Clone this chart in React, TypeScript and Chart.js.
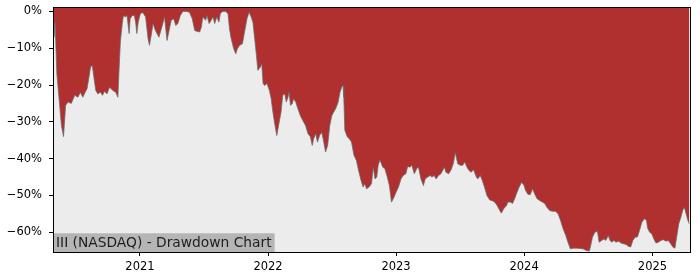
import { useEffect, useRef } from "react";
import { Chart, registerables } from "chart.js";

Chart.register(...registerables);

const dates: string[] = [
  "2020-04-28","2020-05-01","2020-05-04","2020-05-09","2020-05-17","2020-05-22","2020-05-28","2020-06-03","2020-06-10","2020-06-19",
  "2020-06-29","2020-07-08","2020-07-15","2020-07-22","2020-07-27","2020-08-03","2020-08-08","2020-08-13","2020-08-18","2020-08-23",
  "2020-08-28","2020-09-03","2020-09-10","2020-09-16","2020-09-22","2020-09-29","2020-10-06","2020-10-16","2020-10-24","2020-10-30",
  "2020-11-02","2020-11-06","2020-11-12","2020-11-15","2020-11-21","2020-11-25","2020-12-01","2020-12-04","2020-12-10","2020-12-16",
  "2020-12-20","2020-12-23","2020-12-27",
  "2021-01-02","2021-01-09","2021-01-17","2021-01-24","2021-01-28","2021-02-02","2021-02-07","2021-02-14","2021-02-24","2021-03-03",
  "2021-03-12","2021-03-19","2021-03-24","2021-03-31","2021-04-07","2021-04-13","2021-04-19","2021-04-26","2021-05-03","2021-05-13",
  "2021-05-22","2021-05-30","2021-06-06","2021-06-12","2021-06-20","2021-06-25","2021-06-29","2021-07-07","2021-07-11","2021-07-17",
  "2021-07-23","2021-07-28","2021-08-02","2021-08-08","2021-08-14","2021-08-18","2021-08-24","2021-09-02","2021-09-09","2021-09-13",
  "2021-09-18","2021-09-25","2021-10-01","2021-10-06","2021-10-12","2021-10-20","2021-10-26","2021-11-02","2021-11-08","2021-11-14",
  "2021-11-19","2021-11-24","2021-11-29","2021-12-03","2021-12-10","2021-12-14","2021-12-18","2021-12-22","2021-12-29",
  "2022-01-05","2022-01-10","2022-01-15","2022-01-20","2022-01-26","2022-02-01","2022-02-07","2022-02-12","2022-02-18","2022-02-22",
  "2022-02-27","2022-03-02","2022-03-06","2022-03-11","2022-03-15","2022-03-21","2022-03-27","2022-04-03","2022-04-10","2022-04-18",
  "2022-04-25","2022-05-02","2022-05-07","2022-05-11","2022-05-17","2022-05-22","2022-05-28","2022-06-03","2022-06-09","2022-06-14",
  "2022-06-20","2022-06-26","2022-07-02","2022-07-07","2022-07-13","2022-07-20","2022-07-25","2022-07-30","2022-08-03","2022-08-05",
  "2022-08-08","2022-08-15","2022-08-20","2022-08-27","2022-09-03","2022-09-10","2022-09-15","2022-09-22","2022-09-29","2022-10-04",
  "2022-10-09","2022-10-16","2022-10-23","2022-10-28","2022-11-02","2022-11-07","2022-11-11","2022-11-16","2022-11-24","2022-11-30",
  "2022-12-07","2022-12-13","2022-12-19","2022-12-26",
  "2023-01-01","2023-01-08","2023-01-15","2023-01-21","2023-01-29","2023-02-03","2023-02-10","2023-02-15","2023-02-22","2023-03-01",
  "2023-03-06","2023-03-13","2023-03-20","2023-03-25","2023-04-01","2023-04-08","2023-04-13","2023-04-20","2023-04-25","2023-05-02",
  "2023-05-09","2023-05-19","2023-05-23","2023-05-31","2023-06-07","2023-06-13","2023-06-19","2023-06-26","2023-07-03","2023-07-10",
  "2023-07-16","2023-07-22","2023-07-28","2023-08-03","2023-08-10","2023-08-18","2023-08-22","2023-08-29","2023-09-04","2023-09-10",
  "2023-09-17","2023-09-25","2023-10-02","2023-10-09","2023-10-16","2023-10-21","2023-10-28","2023-11-04","2023-11-12","2023-11-16",
  "2023-11-23","2023-11-29","2023-12-05","2023-12-12","2023-12-18","2023-12-25",
  "2024-01-01","2024-01-05","2024-01-12","2024-01-19","2024-01-25","2024-01-31","2024-02-07","2024-02-15","2024-02-22","2024-02-29",
  "2024-03-06","2024-03-14","2024-03-22","2024-03-31","2024-04-07","2024-04-14","2024-04-21","2024-04-29","2024-05-05","2024-05-12",
  "2024-05-20","2024-05-30","2024-06-08","2024-06-17","2024-06-25","2024-07-05","2024-07-09","2024-07-14","2024-07-21","2024-07-28",
  "2024-08-02","2024-08-09","2024-08-16","2024-08-21","2024-08-28","2024-09-02","2024-09-07","2024-09-13","2024-09-19","2024-09-26",
  "2024-10-03","2024-10-10","2024-10-18","2024-10-24","2024-10-31","2024-11-06","2024-11-13","2024-11-19","2024-11-25","2024-12-02",
  "2024-12-09","2024-12-15","2024-12-18","2024-12-24","2024-12-30",
  "2025-01-05","2025-01-11","2025-01-18","2025-01-25","2025-02-01","2025-02-09","2025-02-15","2025-02-22","2025-02-28","2025-03-06",
  "2025-03-11","2025-03-17","2025-03-23","2025-03-28","2025-04-02","2025-04-07","2025-04-12","2025-04-16",
];

const drawdown: number[] = [
  -1.5, -7, -3, -17, -25.5, -31, -34, -25.5, -24.6, -25,
  -22.8, -23.3, -22, -23.3, -22.3, -21, -18.2, -15.1, -14.7, -18.2,
  -21.5, -22.4, -21.9, -22.8, -21.7, -22.4, -20.6, -21.5, -22, -23.3,
  -16.5, -8.3, -2.9, -1.1, -1.5, -1.1, -6, -2, -1.1, -1.1,
  -3.3, -6, -2.9,
  -0.6, -0.3, -1.5, -7.4, -9.2, -6.5, -3.3, -5.2, -7, -4.7,
  -1.5, -7.9, -5.6, -2.4, -2, -3.8, -3.3, -1.1, 0, 0,
  -0.2, -2, -5.2, -5.4, -5.6, -4.3, -1.5, -2.4, -1.1, -3.3,
  -2.4, -1.5, -3.3, -1.5, -2.9, -0.6, 0, 0, -0.6, -4.7,
  -7.4, -10.1, -11.5, -10.1, -9.2, -8.8, -5.6, -2, -0.2, -1.5,
  -3, -7.4, -12, -16, -15.1, -14.2, -19.6, -20.1, -19.6,
  -21.5, -23.7, -27.4, -30.5, -33.7, -30.5, -27.4, -22.8, -22.4, -24.6,
  -23.3, -21.9, -25.5, -25.1, -23.7, -24.6, -26.4, -28.3, -29.6, -31,
  -33.2, -34.1, -36.4, -34.6, -33.2, -35.5, -33.7, -32.8, -35.5, -38.2,
  -36.4, -31, -28.3, -27.4, -26.4, -24.6, -22, -20.6, -20.1, -23.3,
  -32.3, -34.1, -34.5, -35.5, -39.1, -40.5, -42.7, -45.5, -47.7, -46.8,
  -48.2, -47.7, -46.8, -42.3, -45.5, -45, -41.8, -40.3, -42.3, -42.7,
  -45, -47.3, -51.8, -50.5,
  -49.1, -47.7, -45.5, -44.6, -44.1, -42.1, -42.3, -41.8, -44.1, -42.7,
  -42.3, -45.5, -47.3, -45.5, -45, -44.6, -45, -44.6, -45.5, -44.6,
  -44.1, -42.3, -43.7, -44.1, -43, -41.4, -38.4, -41.4, -41.8, -41.8,
  -40.9, -42.3, -43.2, -43.7, -43, -45, -45.5, -44.6, -45.9, -47.7,
  -50, -51.2, -51.4, -51.8, -52.7, -53.6, -54.8, -53.6, -52.7, -51.8,
  -51.8, -52.2, -50.9, -49.1, -47.7, -46.4,
  -47.3, -48.6, -49.7, -49.7, -48.2, -49.5, -50.9, -51.4, -51.8, -52.2,
  -53.2, -54.1, -54.3, -54.3, -55, -56.8, -59, -60.9, -62.7, -64.5,
  -64.3, -64.3, -64.4, -64.5, -64.9, -65.1, -63.6, -61.3, -60, -59.7,
  -62.7, -62.2, -61.8, -62.2, -60.9, -62.2, -62.7, -62.2, -62.7, -62.4,
  -62.9, -63.1, -63.3, -63.8, -64, -62.2, -61.3, -61.3, -59.5, -57.2,
  -56.3, -56.8, -58.8, -60, -60.4,
  -61.8, -62.9, -62.7, -62.2, -62, -62.4, -62.2, -63.1, -64, -64.3,
  -61.3, -57.7, -55.9, -54.1, -53.2, -55, -56.8, -57.7,
];

const yTicks: number[] = [0, -10, -20, -30, -40, -50, -60];
const xTickYears: number[] = [2021, 2022, 2023, 2024, 2025];
const xStart = "2020-04-28";
const xEnd = "2025-04-18";
const yMin = -65.35;
const yMax = 1.2;
const chartTitle = "III (NASDAQ) - Drawdown Chart";

const FONT = '"DejaVu Sans", sans-serif';

export default function App() {
  const ref = useRef<HTMLCanvasElement | null>(null);

  useEffect(() => {
    document.body.style.margin = "0";
    const canvas = ref.current;
    if (!canvas) return;

    const decor = {
      id: "decor",
      beforeDraw(chart: any) {
        const { ctx, chartArea: a } = chart;
        ctx.save();
        ctx.fillStyle = "#ececec";
        ctx.fillRect(a.left, a.top, a.right - a.left, a.bottom - a.top);
        ctx.restore();
      },
      afterDatasetsDraw(chart: any) {
        const { ctx, chartArea: a } = chart;
        ctx.save();
        ctx.font = `13.8px ${FONT}`;
        const w = ctx.measureText(chartTitle).width;
        ctx.fillStyle = "#b5b5b5";
        ctx.fillRect(a.left, a.bottom - 18.7, w + 6, 18.7);
        ctx.fillStyle = "#1e1e1e";
        ctx.textBaseline = "alphabetic";
        ctx.textAlign = "left";
        ctx.fillText(chartTitle, a.left + 3, a.bottom - 4.7);
        ctx.restore();
      },
      afterDraw(chart: any) {
        const { ctx, chartArea: a } = chart;
        ctx.save();
        ctx.strokeStyle = "#000";
        ctx.lineWidth = 1;
        ctx.strokeRect(a.left + 0.5, a.top + 0.5, a.right - a.left, a.bottom - a.top);
        ctx.restore();
      },
    };

    const chart = new Chart(canvas, {
      type: "line",
      data: {
        datasets: [
          {
            data: dates.map((d, i) => ({ x: Date.parse(d), y: drawdown[i] })),
            borderColor: "rgba(105,105,105,0.75)",
            borderWidth: 1,
            backgroundColor: "#b03030",
            fill: "end",
            pointRadius: 0,
            tension: 0,
          },
        ],
      },
      options: {
        animation: false,
        responsive: false,
        devicePixelRatio: 1,
        layout: { padding: { top: 7, right: 10, left: 0, bottom: 0 } },
        plugins: { legend: { display: false }, tooltip: { enabled: false } },
        scales: {
          x: {
            type: "linear",
            min: Date.parse(xStart),
            max: Date.parse(xEnd),
            border: { display: false },
            grid: { drawOnChartArea: false, drawTicks: true, tickLength: 4, tickColor: "#000", tickWidth: 1 },
            ticks: {
              color: "#000",
              font: { family: FONT, size: 11.5 },
              padding: 4,
              maxRotation: 0,
              callback: (v: any) => String(new Date(Number(v)).getUTCFullYear()),
            },
            afterBuildTicks: (s: any) => {
              s.ticks = xTickYears.map((y) => ({ value: Date.UTC(y, 0, 1) }));
            },
            afterFit: (s: any) => {
              s.height = 28;
              s.paddingLeft = 0;
              s.paddingRight = 0;
            },
          },
          y: {
            type: "linear",
            min: yMin,
            max: yMax,
            border: { display: false },
            grid: { drawOnChartArea: false, drawTicks: true, tickLength: 4, tickColor: "#000", tickWidth: 1 },
            ticks: {
              color: "#000",
              font: { family: FONT, size: 11.5 },
              padding: 7,
              callback: (v: any) => (Number(v) === 0 ? "0%" : "\u2212" + Math.abs(Number(v)) + "%"),
            },
            afterBuildTicks: (s: any) => {
              s.ticks = yTicks.map((v) => ({ value: v }));
            },
            afterFit: (s: any) => {
              s.width = 53;
              s.paddingTop = 0;
              s.paddingBottom = 0;
            },
          },
        },
      },
      plugins: [decor],
    });

    return () => chart.destroy();
  }, []);

  return <canvas ref={ref} width={700} height={280} style={{ display: "block" }} />;
}
